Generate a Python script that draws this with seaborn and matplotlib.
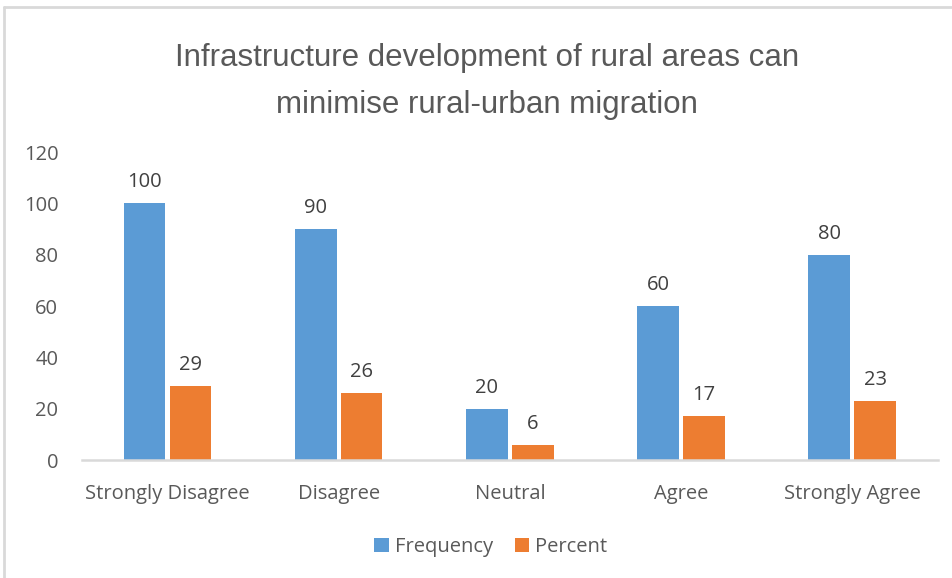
import matplotlib
matplotlib.use("Agg")
import matplotlib.pyplot as plt
import seaborn as sns
import pandas as pd

categories = ["Strongly Disagree", "Disagree", "Neutral", "Agree", "Strongly Agree"]
frequency = [100, 90, 20, 60, 80]
percent = [29, 26, 6, 17, 23]
series_names = ["Frequency", "Percent"]
y_ticks = [0, 20, 40, 60, 80, 100, 120]

df = pd.DataFrame({
    "Response": categories * 2,
    "Value": frequency + percent,
    "Series": [series_names[0]] * len(categories) + [series_names[1]] * len(categories),
})

sns.set_theme(style="white")
plt.rcParams["font.family"] = ["Open Sans", "DejaVu Sans"]
text_color = "#595959"

fig = plt.figure(figsize=(9.53, 5.78), dpi=100)
ax = fig.add_axes([0.086, 0.204, 0.898, 0.533])

sns.barplot(
    data=df, x="Response", y="Value", hue="Series",
    order=categories, hue_order=series_names,
    palette=["#5B9BD5", "#ED7D31"], width=0.535, gap=0.09,
    ax=ax, legend=True, saturation=1, linewidth=0,
)

for container in ax.containers:
    ax.bar_label(container, fmt="%d", padding=8, fontsize=14.5, color="#404040")

ax.set_ylim(0, 120)
ax.set_yticks(y_ticks)
ax.set_xlim(-0.5, len(categories) - 0.5)
ax.set_xlabel("")
ax.set_ylabel("")
ax.tick_params(axis="y", length=0, pad=17, labelsize=14.5, labelcolor=text_color)
ax.tick_params(axis="x", length=0, pad=17, labelsize=14.5, labelcolor=text_color)
for side in ["top", "right", "left"]:
    ax.spines[side].set_visible(False)
ax.spines["bottom"].set_color("#D9D9D9")
ax.spines["bottom"].set_linewidth(1.8)

handles, labels = ax.get_legend_handles_labels()
ax.legend_.remove()
fig.legend(handles, labels, loc="center", bbox_to_anchor=(0.515, 0.053), ncol=2,
           frameon=False, fontsize=14.5, handlelength=0.7, handleheight=0.7,
           handletextpad=0.3, columnspacing=1.1, labelcolor=text_color)

fig.text(0.511, 0.859, "Infrastructure development of rural areas can\nminimise rural-urban migration",
         ha="center", va="center", fontsize=22.5, color=text_color,
         family=["Liberation Sans", "DejaVu Sans"], linespacing=1.7)

# light frame along the top and left edges
fig.add_artist(plt.Line2D([0.004, 1.0], [0.988, 0.988], color="#D9D9D9", lw=2, transform=fig.transFigure))
fig.add_artist(plt.Line2D([0.004, 0.004], [0.0, 0.988], color="#D9D9D9", lw=2, transform=fig.transFigure))

fig.savefig("out.png", dpi=100, facecolor="white")
